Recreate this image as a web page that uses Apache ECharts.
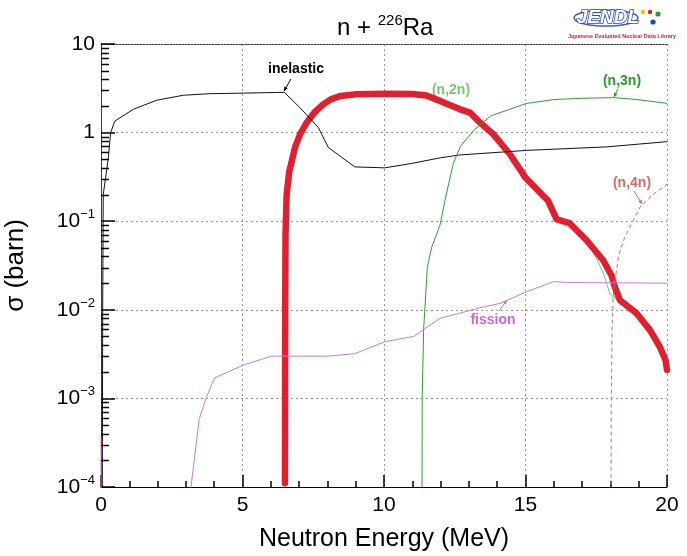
<!DOCTYPE html>
<html>
<head>
<meta charset="utf-8">
<script src="https://cdn.jsdelivr.net/npm/echarts@6/dist/echarts.min.js"></script>
<style>
  html, body { margin: 0; padding: 0; background: #fff; }
  #chart { width: 687px; height: 556px; }
</style>
</head>
<body>
<div id="chart"></div>
<script>
// cross sections, [energy MeV, barn]
const inelastic = [[0.04,1e-5],[0.06,0.01],[0.08,0.2],[0.26,0.52],[0.34,1.0],[0.49,1.35],[1.14,1.83],[1.97,2.32],[2.91,2.64],[3.85,2.75],[5.02,2.79],[6.48,2.85],[7.03,1.91],[7.68,1.14],[8.03,0.68],[8.97,0.41],[10.03,0.40],[11.0,0.45],[12.0,0.52],[12.69,0.56],[15.04,0.63],[17.87,0.69],[20,0.79]];
const n2n = [[6.50,1.1e-4],[6.51,0.01],[6.52,0.07],[6.56,0.2],[6.65,0.36],[6.86,0.69],[7.05,0.98],[7.27,1.30],[7.55,1.70],[7.86,2.09],[8.12,2.37],[8.45,2.59],[9.03,2.71],[10.0,2.75],[11.0,2.73],[11.5,2.62],[11.98,2.28],[12.69,1.83],[13.04,1.68],[13.39,1.30],[13.86,0.96],[14.45,0.57],[15.0,0.31],[15.8,0.17],[16.1,0.105],[16.56,0.095],[17.16,0.061],[17.75,0.036],[18.04,0.0244],[18.16,0.018],[18.34,0.0128],[18.93,0.0091],[19.4,0.0059],[19.75,0.0038],[19.95,0.0027],[20,0.0021]];
const n2nThin = [[17.4,0.045],[17.75,0.026],[17.98,0.0152],[18.25,0.0128]];
const n3n = [[11.34,1e-5],[11.35,0.001],[11.40,0.006],[11.53,0.030],[11.68,0.05],[11.99,0.093],[12.15,0.17],[12.45,0.45],[12.7,0.7],[13.2,1.08],[13.77,1.54],[14.1,1.68],[15.02,2.13],[16.0,2.36],[17.0,2.44],[18.1,2.48],[18.9,2.37],[20,2.14]];
const n4n = [[18.02,1e-5],[18.03,1e-3],[18.06,0.006],[18.10,0.014],[18.16,0.021],[18.3,0.042],[18.5,0.065],[19.05,0.145],[19.5,0.20],[20,0.26]];
const fission = [[0,3.5e-4],[0.01,1e-5],[2.8,1e-5],[3.18,1e-4],[3.47,5.8e-4],[3.71,1.0e-3],[4.01,1.7e-3],[5.02,2.37e-3],[6.03,3.0e-3],[8.04,3.0e-3],[8.97,3.2e-3],[10.02,4.35e-3],[11.04,5.0e-3],[11.98,8.0e-3],[13.46,1.07e-2],[14.1,1.18e-2],[15.04,1.6e-2],[16.0,2.08e-2],[16.57,2.03e-2],[20,2.0e-2]];

// minor ticks 2..9 in each decade of the log axis
const yMinor = [];
for (let e = -4; e <= 0; e++) {
    for (let k = 2; k <= 9; k++) yMinor.push(k * Math.pow(10, e));
}

const font = 'Liberation Sans, Arial, sans-serif';

let myChart = echarts.init(document.getElementById('chart'));

function lineSeries(data, color, width, extra) {
    return Object.assign({
        type: 'line',
        data: data,
        showSymbol: false,
        symbol: 'none',
        animation: false,
        lineStyle: { color: color, width: width, cap: 'round', join: 'round' }
    }, extra || {});
}

function arrow(x1, y1, x2, y2, color) {
    let a = Math.atan2(y2 - y1, x2 - x1);
    let s = 4;
    let p1 = [x2 - s * Math.cos(a) + 2 * Math.sin(a), y2 - s * Math.sin(a) - 2 * Math.cos(a)];
    let p2 = [x2 - s * Math.cos(a) - 2 * Math.sin(a), y2 - s * Math.sin(a) + 2 * Math.cos(a)];
    return [
        { type: 'line', shape: { x1: x1, y1: y1, x2: x2, y2: y2 }, style: { stroke: color, lineWidth: 1 } },
        { type: 'polygon', shape: { points: [[x2, y2], p1, p2] }, style: { fill: color } }
    ];
}

function label(text, x, y, color) {
    return {
        type: 'text', x: x, y: y,
        style: { text: text, fill: color, font: 'bold 14px ' + font, align: 'center', verticalAlign: 'middle' }
    };
}

const annotations = [
    label('inelastic', 296, 69, '#000'),
    label('(n,2n)', 451, 90, '#78c86e'),
    label('(n,3n)', 622, 81, '#22a022'),
    label('(n,4n)', 632, 183, '#d46a6a'),
    label('fission', 493, 320, '#cc66d6'),
    ...arrow(291, 79, 284, 91, '#000'),
    ...arrow(618, 89, 614, 97, '#22a022'),
    ...arrow(634, 191, 642, 204, '#d46a6a'),
    ...arrow(499, 311, 507, 300, '#cc66d6'),
    // JENDL logo
    {
        type: 'ellipse', shape: { cx: 606, cy: 18, rx: 32, ry: 8 },
        style: { fill: 'none', stroke: '#3a5ad8', lineWidth: 1.5 }
    },
    {
        type: 'text', x: 608, y: 18,
        style: { text: 'JENDL', font: 'italic bold 19px ' + font, fill: '#fff', stroke: '#2747d0', lineWidth: 1.6, align: 'center', verticalAlign: 'middle' }
    },
    { type: 'circle', shape: { cx: 643, cy: 12, r: 2.2 }, style: { fill: '#f2c200' } },
    { type: 'circle', shape: { cx: 650, cy: 12, r: 2.2 }, style: { fill: '#e02020' } },
    { type: 'circle', shape: { cx: 658, cy: 14, r: 2.6 }, style: { fill: '#2aa02a' } },
    { type: 'circle', shape: { cx: 653, cy: 22, r: 2.6 }, style: { fill: '#2040d0' } },
    {
        type: 'text', x: 622, y: 36,
        style: { text: 'Japanese Evaluated Nuclear Data Library', font: 'bold 5.5px ' + font, fill: '#c0282d', align: 'center', verticalAlign: 'middle' }
    }
];

let option = {
    backgroundColor: '#fff',
    animation: false,
    title: {
        text: '{a|n + }{s|226}{a|Ra}',
        left: 332,
        top: 8,
        textStyle: {
            fontWeight: 'normal',
            rich: {
                a: { fontSize: 24, fontFamily: font, fontWeight: 'normal', color: '#000', lineHeight: 30 },
                s: { fontSize: 15, fontFamily: font, fontWeight: 'normal', color: '#000', lineHeight: 15, verticalAlign: 'top' }
            }
        }
    },
    grid: { left: 101, right: 20, top: 44, bottom: 69, containLabel: false, outerBoundsMode: 'none' },
    xAxis: [
        {
            type: 'value', min: 0, max: 20, interval: 5,
            name: 'Neutron Energy (MeV)', nameLocation: 'middle', nameGap: 40,
            nameTextStyle: { fontSize: 25, fontFamily: font, color: '#000' },
            axisLine: { show: true, lineStyle: { color: '#000', width: 1 } },
            axisTick: { show: true, inside: true, length: 12, lineStyle: { color: '#000', width: 1.5 } },
            minorTick: { show: true, splitNumber: 5, length: 6, lineStyle: { color: '#000', width: 1.5 } },
            axisLabel: { fontSize: 21, fontFamily: font, color: '#000', margin: 8 },
            splitLine: { show: true, lineStyle: { color: '#999', type: [2, 3], width: 1 } }
        },
        {
            type: 'value', min: 0, max: 20, position: 'top',
            axisLine: { show: true, lineStyle: { color: '#444', type: [2, 1], width: 1 } },
            axisTick: { show: false }, axisLabel: { show: false }, splitLine: { show: false }
        }
    ],
    yAxis: [
        {
            type: 'log', logBase: 10, min: 1e-4, max: 10,
            name: 'σ (barn)', nameLocation: 'middle', nameGap: 72,
            nameTextStyle: { fontSize: 26, fontFamily: font, color: '#000' },
            axisLine: { show: true, lineStyle: { color: '#000', width: 1 } },
            axisTick: { show: true, inside: true, length: 14, lineStyle: { color: '#000', width: 1.5 } },
            axisLabel: {
                fontSize: 21, fontFamily: font, color: '#000', margin: 6,
                formatter: function (v) {
                    let e = Math.round(Math.log10(v));
                    if (e === 1) return '10';
                    if (e === 0) return '1';
                    return '{b|10}{s|\u2212' + (-e) + '}';
                },
                rich: {
                    b: { fontSize: 21, fontFamily: font, color: '#000', lineHeight: 26 },
                    s: { fontSize: 13, fontFamily: font, color: '#000', lineHeight: 13, verticalAlign: 'top' }
                }
            },
            splitLine: { show: true, lineStyle: { color: '#999', type: [2, 3], width: 1 } }
        },
        {
            type: 'log', logBase: 10, min: 1e-4, max: 10, position: 'right',
            axisLine: { show: true, lineStyle: { color: '#444', type: [2, 1], width: 1 } },
            axisTick: { show: false }, axisLabel: { show: false }, splitLine: { show: false }
        }
    ],
    series: [
        lineSeries(n2nThin, '#6ccf5f', 1),
        lineSeries(n2n, '#e21f2f', 6.5),
        lineSeries(inelastic, '#111', 1),
        lineSeries(n3n, '#2ca02c', 1),
        lineSeries(fission, '#cc77dd', 1),
        lineSeries(n4n, '#d46a6a', 1, { lineStyle: { color: '#d46a6a', width: 1, type: [4, 3] } })
    ],
    graphic: annotations
};

myChart.setOption(option);

// log-axis minor ticks, placed with the chart's own axis scale
let ticks = yMinor.map(v => {
    let p = myChart.convertToPixel({ gridIndex: 0 }, [0, v]);
    let x0 = Math.round(p[0]), y0 = Math.round(p[1]) + 0.5;
    return {
        type: 'line', z: 100,
        shape: { x1: x0, y1: y0, x2: x0 + 8, y2: y0 },
        style: { stroke: '#000', lineWidth: 1.5 }
    };
});

myChart.setOption({ graphic: annotations.concat(ticks) });
</script>
</body>
</html>
